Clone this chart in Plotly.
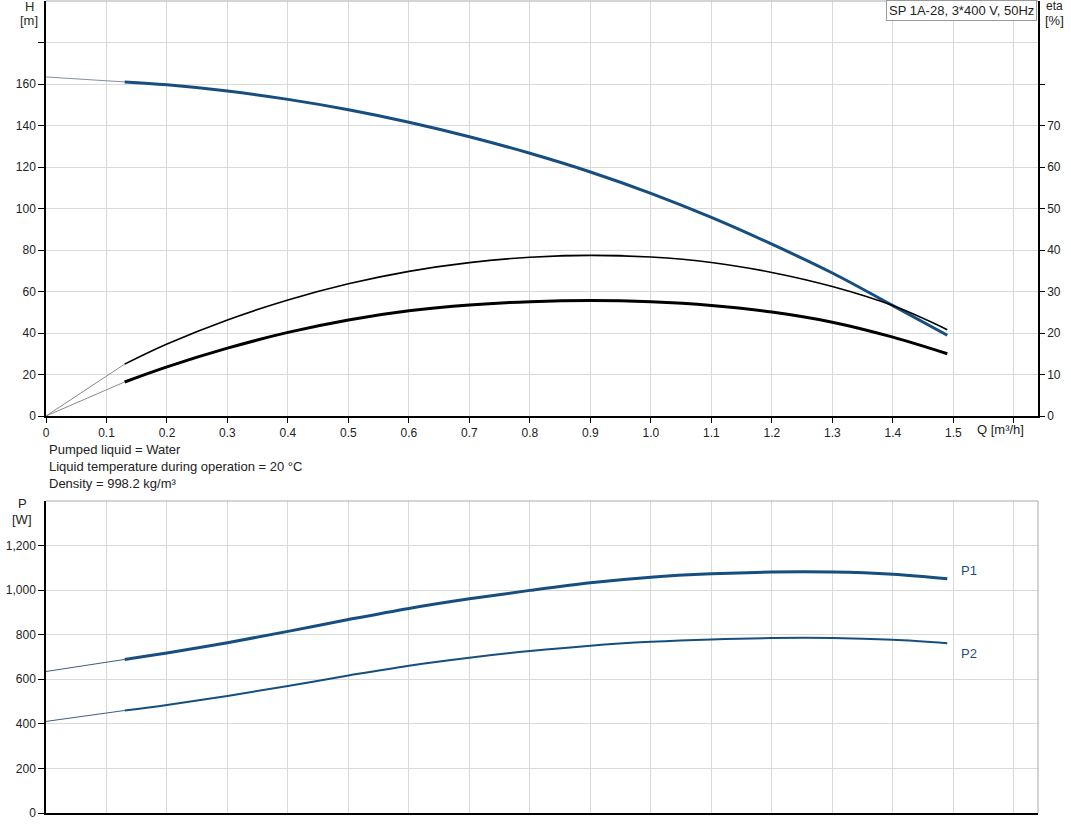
import plotly.graph_objects as go

# ---- data ----
q_ext = [0.0, 0.13]
q = [0.13, 0.2, 0.3, 0.4, 0.5, 0.6, 0.7, 0.8, 0.9, 1.0, 1.1, 1.2, 1.3, 1.4, 1.49]

h_ext = [163.4, 161.0]
h = [161.0, 159.6, 156.6, 152.6, 147.6, 141.6, 134.6, 126.6, 117.6, 107.3, 95.7, 82.8, 68.9, 53.2, 38.9]

eta1_ext = [0.0, 12.5]
eta1 = [12.5, 17.35, 23.15, 27.95, 31.85, 34.85, 36.95, 38.25, 38.7, 38.3, 37.0, 34.6, 31.2, 26.6, 20.8]

eta2_ext = [0.0, 8.2]
eta2 = [8.2, 11.85, 16.35, 20.15, 23.15, 25.35, 26.75, 27.55, 27.85, 27.55, 26.65, 25.05, 22.6, 19.0, 15.0]

p1_ext = [635, 689]
p1 = [689, 718, 764, 815, 868, 918, 961, 999, 1033, 1058, 1073, 1081, 1081, 1071, 1051]

p2_ext = [411, 460]
p2 = [460, 485, 525, 570, 617, 661, 697, 727, 751, 768, 779, 785, 785, 777, 762]

x_ticks = [0, 0.1, 0.2, 0.3, 0.4, 0.5, 0.6, 0.7, 0.8, 0.9, 1.0, 1.1, 1.2, 1.3, 1.4, 1.5, 1.6]
x_ticktext = ["0", "0.1", "0.2", "0.3", "0.4", "0.5", "0.6", "0.7", "0.8", "0.9", "1.0",
              "1.1", "1.2", "1.3", "1.4", "1.5", ""]
h_ticks = [0, 20, 40, 60, 80, 100, 120, 140, 160, 180]
h_ticktext = ["0", "20", "40", "60", "80", "100", "120", "140", "160", ""]
eta_ticks = [0, 10, 20, 30, 40, 50, 60, 70, 80]
eta_ticktext = ["0", "10", "20", "30", "40", "50", "60", "70", ""]
p_ticks = [0, 200, 400, 600, 800, 1000, 1200]
p_ticktext = ["0", "200", "400", "600", "800", "1,000", "1,200"]

title_text = "SP 1A-28, 3*400 V, 50Hz"
info_lines = ["Pumped liquid = Water",
              "Liquid temperature during operation = 20 °C",
              "Density = 998.2 kg/m³"]

# ---- styling ----
BLUE = "#164f7f"
FONT = "Liberation Sans, Arial, sans-serif"
GRID = "#d9d9d9"
W, H = 1071, 833
ML, MR, MT, MB = 46, 33, 1, 20
PH = H - MT - MB


def yp(py):
    return (H - MB - py) / PH


def xp(px):
    return (px - ML) / (W - ML - MR)


fig = go.Figure()

# top: H curve
fig.add_trace(go.Scatter(x=q_ext, y=h_ext, mode="lines", line=dict(color="#7f8fa3", width=1),
                         xaxis="x", yaxis="y", showlegend=False, hoverinfo="skip"))
fig.add_trace(go.Scatter(x=q, y=h, mode="lines", line=dict(color=BLUE, width=3, shape="spline"),
                         xaxis="x", yaxis="y", showlegend=False))
# eta curves
fig.add_trace(go.Scatter(x=q_ext, y=eta1_ext, mode="lines", line=dict(color="#8a8a8a", width=1),
                         xaxis="x", yaxis="y2", showlegend=False, hoverinfo="skip"))
fig.add_trace(go.Scatter(x=q, y=eta1, mode="lines", line=dict(color="black", width=1.6, shape="spline"),
                         xaxis="x", yaxis="y2", showlegend=False))
fig.add_trace(go.Scatter(x=q_ext, y=eta2_ext, mode="lines", line=dict(color="#8a8a8a", width=1),
                         xaxis="x", yaxis="y2", showlegend=False, hoverinfo="skip"))
fig.add_trace(go.Scatter(x=q, y=eta2, mode="lines", line=dict(color="black", width=3, shape="spline"),
                         xaxis="x", yaxis="y2", showlegend=False))

# bottom: power
fig.add_trace(go.Scatter(x=q_ext, y=p1_ext, mode="lines", line=dict(color="#3d5f80", width=1),
                         xaxis="x2", yaxis="y3", showlegend=False, hoverinfo="skip"))
fig.add_trace(go.Scatter(x=q, y=p1, mode="lines", line=dict(color=BLUE, width=3, shape="spline"),
                         xaxis="x2", yaxis="y3", showlegend=False))
fig.add_trace(go.Scatter(x=q_ext, y=p2_ext, mode="lines", line=dict(color="#3d5f80", width=1),
                         xaxis="x2", yaxis="y3", showlegend=False, hoverinfo="skip"))
fig.add_trace(go.Scatter(x=q, y=p2, mode="lines", line=dict(color=BLUE, width=2, shape="spline"),
                         xaxis="x2", yaxis="y3", showlegend=False))

tickfont = dict(family=FONT, size=12, color="#222")
xrange = [0, 1.64]
top_dom = [yp(416), 1.0]
bot_dom = [0.0, yp(501)]

fig.update_layout(
    width=W, height=H,
    margin=dict(l=ML, r=MR, t=MT, b=MB, autoexpand=False),
    paper_bgcolor="white", plot_bgcolor="white",
    font=dict(family=FONT, size=12, color="#222"),
    xaxis=dict(domain=[0, 1], anchor="y", range=xrange, tickmode="array", automargin=False,
               tickvals=x_ticks, ticktext=x_ticktext, showgrid=True, gridcolor=GRID,
               showline=True, linecolor="black", linewidth=1.5, ticks="outside", ticklen=5,
               tickcolor="black", tickfont=tickfont, zeroline=False, mirror=False),
    yaxis=dict(domain=top_dom, anchor="x", range=[0, 200], tickmode="array", automargin=False,
               tickvals=h_ticks, ticktext=h_ticktext, showgrid=True, gridcolor=GRID,
               showline=True, linecolor="black", linewidth=1.5, ticks="outside", ticklen=6,
               tickcolor="black", tickfont=tickfont, zeroline=False),
    yaxis2=dict(overlaying="y", side="right", anchor="x", range=[0, 100], tickmode="array",
                automargin=False,
                tickvals=eta_ticks, ticktext=eta_ticktext, showgrid=False,
                showline=True, linecolor="black", linewidth=1.5, ticks="outside", ticklen=5,
                tickcolor="black", tickfont=tickfont, zeroline=False),
    xaxis2=dict(domain=[0, 1], anchor="y3", range=xrange, tickmode="array", automargin=False,
                tickvals=x_ticks, showticklabels=False, showgrid=True, gridcolor=GRID,
                showline=True, linecolor="black", linewidth=1.5, ticks="", zeroline=False),
    yaxis3=dict(domain=bot_dom, anchor="x2", range=[0, 1400], tickmode="array", automargin=False,
                tickvals=p_ticks, ticktext=p_ticktext, showgrid=True, gridcolor=GRID,
                showline=True, linecolor="black", linewidth=1.5, ticks="outside", ticklen=6,
                tickcolor="black", tickfont=tickfont, zeroline=False),
)

# borders (top of top plot, top/right of bottom plot)
fig.add_shape(type="line", xref="paper", yref="paper", x0=0, x1=1, y0=1, y1=1,
              line=dict(color="#aaaaaa", width=1))
fig.add_shape(type="line", xref="paper", yref="paper", x0=0, x1=1, y0=bot_dom[1], y1=bot_dom[1],
              line=dict(color="#aaaaaa", width=1))
fig.add_shape(type="line", xref="paper", yref="paper", x0=1, x1=1, y0=0, y1=bot_dom[1],
              line=dict(color="#aaaaaa", width=1))

ann = []
ann.append(dict(text="H", x=xp(29), y=yp(6), xref="paper", yref="paper", showarrow=False,
                xanchor="center", yanchor="middle", font=dict(size=13, color="#1f2f1f")))
ann.append(dict(text="[m]", x=xp(29), y=yp(21), xref="paper", yref="paper", showarrow=False,
                xanchor="center", yanchor="middle", font=dict(size=13, color="#1f2f1f")))
ann.append(dict(text="eta", x=xp(1054), y=yp(6), xref="paper", yref="paper", showarrow=False,
                xanchor="center", yanchor="middle", font=dict(size=12)))
ann.append(dict(text="[%]", x=xp(1054), y=yp(21), xref="paper", yref="paper", showarrow=False,
                xanchor="center", yanchor="middle", font=dict(size=13)))
ann.append(dict(text="P", x=xp(22), y=yp(503), xref="paper", yref="paper", showarrow=False,
                xanchor="center", yanchor="middle", font=dict(size=13)))
ann.append(dict(text="[W]", x=xp(22), y=yp(519), xref="paper", yref="paper", showarrow=False,
                xanchor="center", yanchor="middle", font=dict(size=13)))
ann.append(dict(text="Q [m³/h]", x=xp(1000), y=yp(429), xref="paper", yref="paper", showarrow=False,
                xanchor="center", yanchor="middle", font=dict(size=13)))
for i, line in enumerate(info_lines):
    ann.append(dict(text=line, x=xp(47), y=yp(449 + 17 * i), xref="paper", yref="paper",
                    showarrow=False, xanchor="left", yanchor="middle", font=dict(size=13)))
ann.append(dict(text=title_text, x=xp(1037), y=yp(0), xref="paper", yref="paper", showarrow=False,
                xanchor="right", yanchor="top", font=dict(size=13), bgcolor="white",
                bordercolor="#999999", borderwidth=1, borderpad=2))
ann.append(dict(text="P1", x=1.51, y=1090, xref="x2", yref="y3", showarrow=False,
                xanchor="left", yanchor="middle", font=dict(size=13, color=BLUE)))
ann.append(dict(text="P2", x=1.51, y=716, xref="x2", yref="y3", showarrow=False,
                xanchor="left", yanchor="middle", font=dict(size=13, color=BLUE)))
fig.update_layout(annotations=ann)

fig.write_html("out.html", config={"displayModeBar": False},
               post_script="document.body.style.margin='0';document.body.style.overflow='hidden';")
